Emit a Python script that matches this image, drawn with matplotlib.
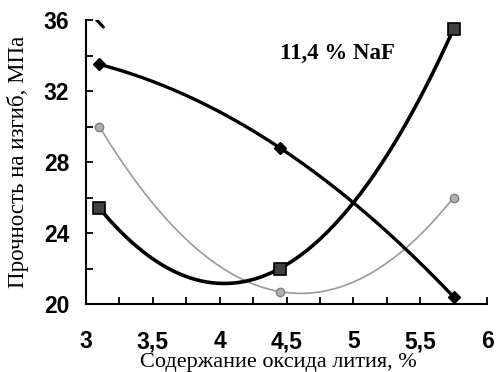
import numpy as np
import matplotlib
matplotlib.use("Agg")
import matplotlib.pyplot as plt
from matplotlib.ticker import MultipleLocator, FuncFormatter

# Data (lithium oxide content, %, vs bending strength, MPa)
x_vals = [3.1, 4.45, 5.75]
diamond_vals = [33.5, 28.8, 20.4]
square_vals = [25.4, 22.0, 35.5]
circle_vals = [30.0, 20.7, 26.0]
stray_mark_x = [3.08, 3.13]
stray_mark_y = [36.0, 35.6]
annotation = "11,4 % NaF"
xlabel = "Содержание оксида лития, %"
ylabel = "Прочность на изгиб, МПа"

W, H = 497, 372
fig = plt.figure(figsize=(W / 100, H / 100), dpi=100)
ax = fig.add_axes([86 / W, 1 - 304 / H, (487 - 86) / W, (304 - 20) / H])

def trend(xs, ys):
    c = np.polyfit(xs, ys, 2)
    xx = np.linspace(min(xs), max(xs), 200)
    return xx, np.polyval(c, xx)

# gray circle series
xx, yy = trend(x_vals, circle_vals)
ax.plot(xx, yy, color="#9a9a9a", lw=1.2, zorder=2)
ax.plot(x_vals, circle_vals, 'o', ms=6, mfc="#b0b0b0", mec="#808080", mew=1, zorder=3)

# square series
xx, yy = trend(x_vals, square_vals)
ax.plot(xx, yy, color="black", lw=2.6, zorder=4)
ax.plot(x_vals, square_vals, 's', ms=8, mfc="#404040", mec="black", mew=1.2, zorder=5)

# diamond series
xx, yy = trend(x_vals, diamond_vals)
ax.plot(xx, yy, color="black", lw=2.4, zorder=4)
ax.plot(x_vals, diamond_vals, 'D', ms=6, mfc="black", mec="black", zorder=5)

ax.plot(stray_mark_x, stray_mark_y, color="black", lw=2.2, solid_capstyle="round")

ax.text(4.88, 34.1, annotation, fontsize=16.5, family="Liberation Serif",
        weight="bold", ha="center", va="center")

ax.set_xlim(3, 6)
ax.set_ylim(20, 36)
ax.xaxis.set_major_locator(MultipleLocator(0.5))
ax.xaxis.set_minor_locator(MultipleLocator(0.25))
ax.yaxis.set_major_locator(MultipleLocator(4))
ax.yaxis.set_minor_locator(MultipleLocator(2))
ax.xaxis.set_major_formatter(FuncFormatter(lambda v, p: ("%g" % v).replace(".", ",")))
ax.yaxis.set_major_formatter(FuncFormatter(lambda v, p: "%d" % v))

for s in ["top", "right"]:
    ax.spines[s].set_visible(False)
for s in ["left", "bottom"]:
    ax.spines[s].set_linewidth(1.5)

ax.tick_params(axis="both", which="both", direction="in", width=1.3, length=5)
ax.tick_params(axis="x", which="major", pad=19, labelsize=16.5)
ax.tick_params(axis="y", which="major", pad=12, labelsize=16.5)
for lab in ax.get_xticklabels() + ax.get_yticklabels():
    lab.set_family("Liberation Sans")
    lab.set_weight("bold")

fig.text(278 / W, 1 - 363 / H, xlabel, fontsize=16, family="Liberation Serif",
         ha="center", va="center")
fig.text(18 / W, 1 - 162 / H, ylabel, fontsize=16.5, family="Liberation Serif",
         ha="center", va="center", rotation=90)

fig.savefig("out.png", dpi=100)
